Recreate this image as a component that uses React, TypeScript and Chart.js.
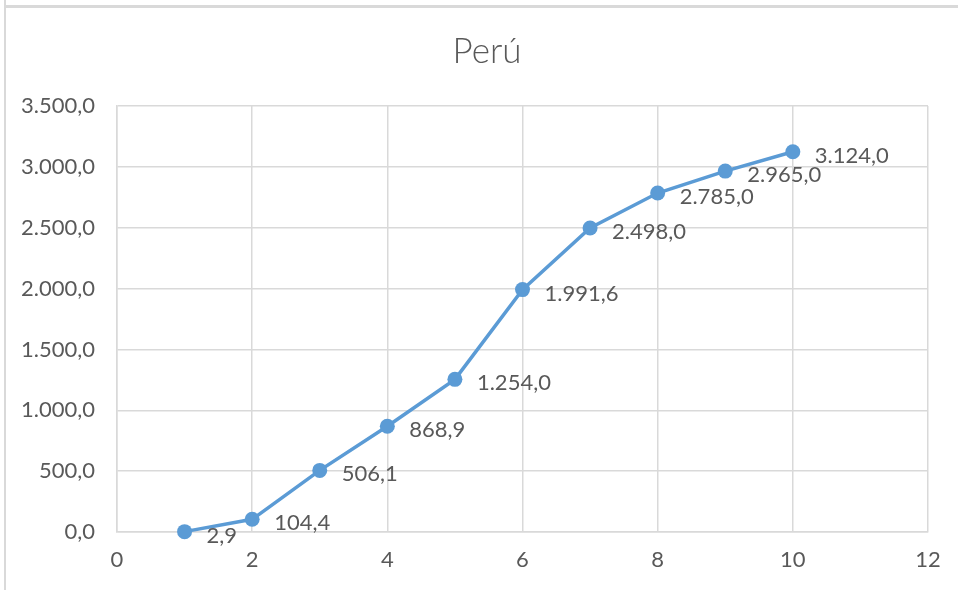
import React, { useEffect, useRef } from "react";
import { Chart, registerables } from "chart.js";

Chart.register(...registerables);

const chartTitle = "Perú";
const xValues = [1, 2, 3, 4, 5, 6, 7, 8, 9, 10];
const yValues = [2.9, 104.4, 506.1, 868.9, 1254.0, 1991.6, 2498.0, 2785.0, 2965.0, 3124.0];
const xTicksRange = { min: 0, max: 12, step: 2 };
const yTicksRange = { min: 0, max: 3500, step: 500 };

const FONT = "Lato, 'Open Sans', sans-serif";
const TEXT = "#595959";
const GRID = "#D9D9D9";
const LINE = "#5B9BD5";

function fmt(v: number): string {
  const neg = v < 0;
  const s = Math.abs(v).toFixed(1);
  const [ip, dp] = s.split(".");
  const withDots = ip.replace(/\B(?=(\d{3})+(?!\d))/g, ".");
  return (neg ? "-" : "") + withDots + "," + dp;
}

const labelPlugin = {
  id: "pointLabels",
  afterDatasetsDraw(chart: any) {
    const ctx = chart.ctx;
    const meta = chart.getDatasetMeta(0);
    ctx.save();
    ctx.font = `22px ${FONT}`;
    ctx.fillStyle = TEXT;
    ctx.textAlign = "left";
    ctx.textBaseline = "middle";
    meta.data.forEach((pt: any, i: number) => {
      ctx.fillText(fmt(yValues[i]), pt.x + 22, pt.y + 4);
    });
    ctx.restore();
  },
};

const titlePlugin = {
  id: "customTitle",
  afterDraw(chart: any) {
    const ctx = chart.ctx;
    ctx.save();
    ctx.font = `300 35px ${FONT}`;
    ctx.fillStyle = TEXT;
    ctx.textAlign = "center";
    ctx.textBaseline = "middle";
    ctx.fillText(chartTitle, 487, 52);
    ctx.restore();
  },
};

export default function App() {
  const ref = useRef<HTMLCanvasElement | null>(null);
  useEffect(() => {
    if (!ref.current) return;
    const chart = new Chart(ref.current, {
      type: "scatter",
      data: {
        datasets: [
          {
            data: xValues.map((x, i) => ({ x, y: yValues[i] })),
            showLine: true,
            borderColor: LINE,
            backgroundColor: LINE,
            borderWidth: 3.5,
            pointRadius: 7.5,
            pointHoverRadius: 7.5,
            pointBorderWidth: 0,
            tension: 0,
            clip: false,
          },
        ],
      },
      options: {
        animation: false,
        responsive: false,
        maintainAspectRatio: false,
        layout: { padding: { top: 106, right: 30, left: 0, bottom: 0 } },
        plugins: {
          legend: { display: false },
          title: { display: false },
          tooltip: { enabled: false },
        },
        scales: {
          x: {
            type: "linear",
            min: xTicksRange.min,
            max: xTicksRange.max,
            ticks: {
              stepSize: xTicksRange.step,
              color: TEXT,
              font: { family: FONT, size: 22 },
              padding: 15,
            },
            grid: { color: GRID, lineWidth: 1.5, drawTicks: false },
            border: { color: GRID, width: 1.5 },
            afterFit: (s: any) => {
              s.height = 58;
            },
          },
          y: {
            type: "linear",
            min: yTicksRange.min,
            max: yTicksRange.max,
            ticks: {
              stepSize: yTicksRange.step,
              color: TEXT,
              font: { family: FONT, size: 22 },
              padding: 22,
              callback: (v: any) => fmt(Number(v)),
            },
            grid: { color: GRID, lineWidth: 1.5, drawTicks: false },
            border: { color: GRID, width: 1.5 },
            afterFit: (s: any) => {
              s.width = 117;
            },
          },
        },
      },
      plugins: [labelPlugin, titlePlugin],
    });
    return () => chart.destroy();
  }, []);

  return (
    <div style={{ position: "fixed", left: 0, top: 0, width: 958, height: 590, background: "#fff" }}>
      <canvas ref={ref} width={958} height={590} style={{ position: "absolute", left: 0, top: 0 }} />
      <div style={{ position: "absolute", left: 4, top: 0, width: 2, height: 590, background: GRID }} />
      <div style={{ position: "absolute", left: 4, top: 5, width: 954, height: 3, background: GRID }} />
    </div>
  );
}
